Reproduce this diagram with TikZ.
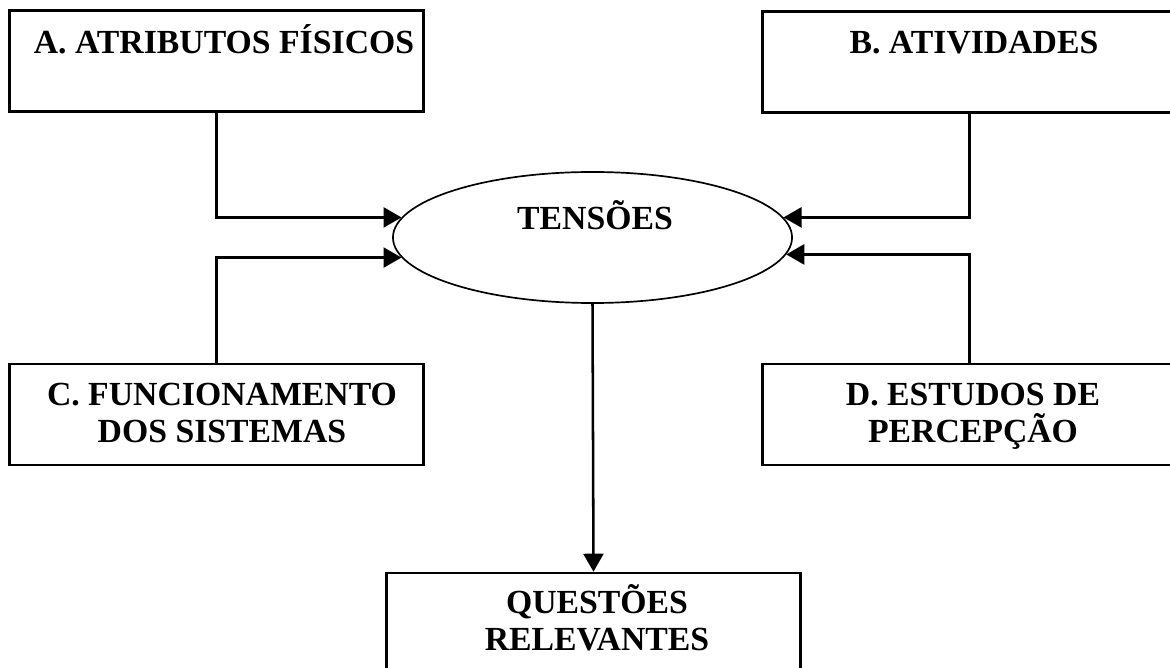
\documentclass[tikz,border=0pt]{standalone}
\usepackage{fontspec}
\setmainfont{Liberation Serif}
\usetikzlibrary{shapes.geometric,arrows.meta}
\begin{document}
\begin{tikzpicture}
[x=0.025cm, y=-0.025cm, font=\bfseries\fontsize{24}{26}\selectfont, line join=miter,
box/.style={draw, line width=1.8pt, minimum width=10.35cm, minimum height=2.525cm, inner sep=0pt},
lbl/.style={align=center, anchor=base, inner sep=0pt},
arr/.style={->, line width=1.8pt},
>={Triangle[length=0.45cm, width=0.5cm]}]
\useasboundingbox (0,0) rectangle (1170,668);
% boxes
\node[box] (a) at (216.5,61) {};
\node[box] (b) at (969.5,62) {};
\node[box] (c) at (216.5,414.5) {};
\node[box] (d) at (969.5,414.5) {};
\node[box] (q) at (593.5,623.5) {};
\node[draw, ellipse, line width=1.2pt, minimum width=9.975cm, minimum height=3.275cm, inner sep=0pt] (ten) at (592.5,237.5) {};
% texts (base = last line)
\node[lbl] (atxt) at (224,54) {A. ATRIBUTOS FÍSICOS};
\node[lbl] (btxt) at (974,54) {B. ATIVIDADES};
\node[lbl] (ctxt) at (222,442) {C. FUNCIONAMENTO\\DOS SISTEMAS};
\node[lbl] (dtxt) at (973,442) {D. ESTUDOS DE\\PERCEPÇÃO};
\node[lbl] (tentxt) at (595,230) {TENSÕES};
\node[lbl] (qtxt) at (597,650) {QUESTÕES\\RELEVANTES};
% arrows
\draw[arr] (a.south) |- (ten.174);
\draw[arr] (c.north) |- (ten.186);
\draw[arr] (b.south) |- (ten.6);
\draw[arr] (d.north) |- (ten.355);
\draw[arr] (ten.south) -- (q.north);
\end{tikzpicture}
\end{document}
